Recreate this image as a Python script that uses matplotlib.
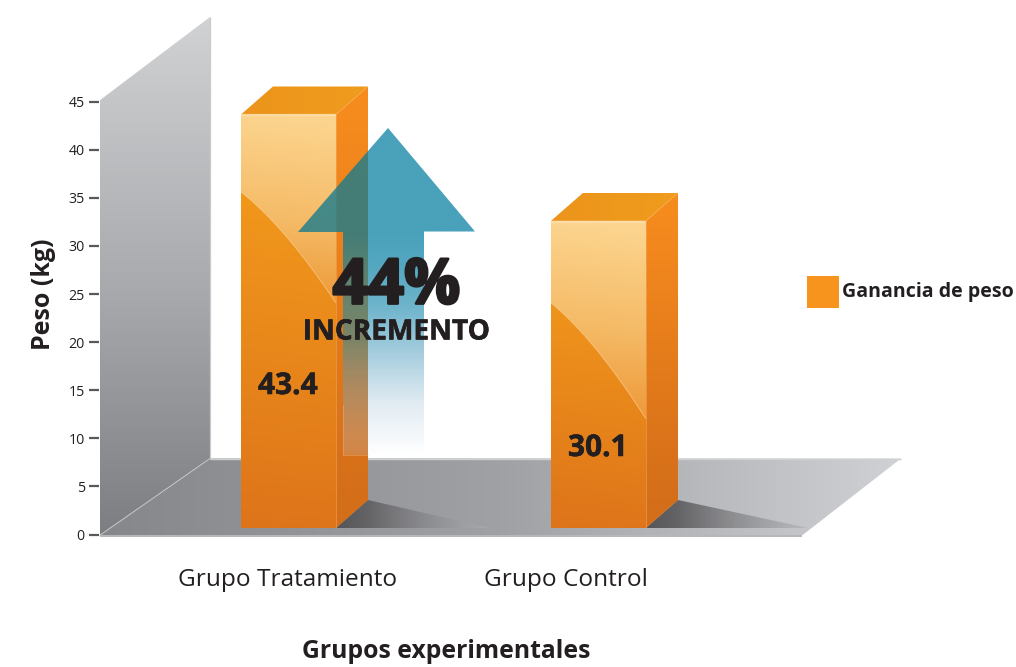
import numpy as np
import matplotlib
matplotlib.use("Agg")
import matplotlib.pyplot as plt
import matplotlib.patheffects as pe
from matplotlib.patches import Polygon, Rectangle

# ---- data ----
categories = ["Grupo Tratamiento", "Grupo Control"]
bar_tops = [43.66, 32.6]          # drawn height on the axis scale
bar_labels = ["43.4", "30.1"]     # printed values
y_ticks = [0, 5, 10, 15, 20, 25, 30, 35, 40, 45]
series_name = "Ganancia de peso"
y_title = "Peso (kg)"
x_title = "Grupos experimentales"
headline = "44%"
subhead = "INCREMENTO"

# ---- layout (pixels of the reference) ----
W, H = 1016, 667
Y0, PX_PER_UNIT = 534.5, 9.62
bar_left = [241, 551]
bar_w, dx, dy = 95, 32, 28
gloss_start = [77.5, 82]
gloss_drop = [111, 116]
shadow_len = [122, 130]
label_py = [386, 448]
cat_x = [288, 566]
TXT = "#231f20"
BOLD = "Open Sans"

def v(py):
    return (Y0 - np.asarray(py, dtype=float)) / PX_PER_UNIT

def py_of(val):
    return Y0 - val * PX_PER_UNIT

def heavy(w):
    return [pe.withStroke(linewidth=w, foreground=TXT)]

fig = plt.figure(figsize=(W / 100, H / 100), dpi=100, facecolor="white")
ax = fig.add_axes([0, 0, 1, 1])
ax.set_facecolor("none")
XLIM, YLIM = (0, W), (float(v(H)), float(v(0)))

def poly_d(pts, **kw):
    pts = np.array(pts, dtype=float)
    return Polygon(np.c_[pts[:, 0], v(pts[:, 1])], closed=True, **kw)

def grad(pts, stops, axis="y", z=1, n=256, tilt=0.0):
    """Gradient clipped to a polygon (pixels). stops: (pos, (r,g,b[,a]))."""
    pts = np.array(pts, dtype=float)
    x0, x1, y0, y1 = pts[:, 0].min(), pts[:, 0].max(), pts[:, 1].min(), pts[:, 1].max()
    xs = np.linspace(x0, x1, n)
    ys = np.linspace(y0, y1, n)
    XX, YY = np.meshgrid(xs, ys)
    t = (YY if axis == "y" else XX) + tilt * (XX - x0)
    pos = [s[0] for s in stops]
    cols = [tuple(s[1]) + ((1.0,) if len(s[1]) == 3 else ()) for s in stops]
    img = np.zeros((n, n, 4))
    for i in range(4):
        img[..., i] = np.interp(t, pos, [c[i] for c in cols])
    img[..., :3] /= 255.0
    im = ax.imshow(img, extent=(x0, x1, float(v(y1)), float(v(y0))), origin="upper",
                   aspect="auto", zorder=z, interpolation="bilinear")
    clip = poly_d(pts, transform=ax.transData, facecolor="none", edgecolor="none")
    im.set_clip_path(clip)
    return im

def line(xs, ys, color, lw=0.8, alpha=1.0, z=3):
    ax.plot(xs, v(ys), color=color, lw=lw, alpha=alpha, zorder=z, solid_capstyle="butt")

# ---- wall and floor ----
wall = [(99.5, 100.5), (210, 17), (210, 458.5), (99.5, 535.5)]
grad(wall, [(17, (209, 210, 212)), (300, (167, 168, 171)), (535, (125, 126, 130))], z=1)
line([210, 210], [17, 458.5], "#c9cacc", 0.9, z=1.5)
floor = [(99.5, 535.5), (210, 458.5), (901, 458.5), (802, 535.5)]
grad(floor, [(100, (134, 135, 139)), (500, (160, 161, 165)), (900, (208, 209, 212))],
     axis="x", z=1)
line([99.5, 210], [535.5, 458.5], "#c4c5c7", 0.7, z=1.5)
line([210, 901], [458.5, 458.5], "#cfd0d2", 1.0, z=1.5)
line([99.5, 802], [535.5, 535.5], "#b4b5b8", 1.4, z=1.5)

# ---- bars ----
for left, top, g_s, g_d, s_l in zip(bar_left, bar_tops, gloss_start, gloss_drop, shadow_len):
    right = left + bar_w
    ptop = py_of(top)
    base = 528
    # shadow
    sh_end = right + dx + s_l
    grad([(right, base), (right + dx, base - dy), (sh_end, base)],
         [(right, (85, 85, 88, 1.0)), (right + dx, (100, 100, 103, 1.0)),
          (sh_end, (175, 176, 179, 0.6))], axis="x", z=2)
    # front
    front = [(left, ptop), (right, ptop), (right, base), (left, base)]
    grad(front, [(ptop, (245, 160, 28)), (base, (222, 116, 26))], z=3, tilt=-0.12)
    # side
    side = [(right, ptop), (right + dx, ptop - dy), (right + dx, base - dy), (right, base)]
    grad(side, [(ptop - dy, (248, 141, 30)), (base - dy, (212, 110, 25))], z=3)
    # top
    top_face = [(left, ptop), (left + dx, ptop - dy), (right + dx, ptop - dy), (right, ptop)]
    grad(top_face, [(left, (236, 148, 27)), (right + dx, (240, 156, 30))], axis="x", z=3)
    # glossy area above a curve
    t = np.linspace(0, 1, 60)
    y_start = ptop + g_s
    cx, cy = 0.46, 0.31
    bx = 2 * (1 - t) * t * cx + t ** 2
    by = 2 * (1 - t) * t * cy + t ** 2
    cxs = left + bx * bar_w
    cys = y_start + by * g_d
    gloss = [(left, ptop), (right, ptop)] + list(zip(cxs[::-1], cys[::-1]))
    grad(gloss, [(ptop, (252, 212, 142, 1.0)), (ptop + 100, (245, 187, 103, 1.0)),
                 (y_start + g_d, (237, 150, 52, 1.0))], z=3.1, tilt=-0.1)
    line(cxs, cys, "#fbd29a", 0.6, 0.7, z=3.2)
    line([left, right], [ptop + 1, ptop + 1], "#fde0ae", 1.6, 0.8, z=3.2)
    line([right, right], [ptop, base], "#f8b870", 0.6, 0.5, z=3.2)
    line([right, right + dx], [ptop, ptop - dy], "#f7b25c", 0.5, 0.6, z=3.2)

# ---- arrow ----
tip_x, head_y, tip_y = 388, 231.5, 128
shaft_l, shaft_r, shaft_b = 343, 424, 455
wing_l, wing_r = 298, 475
edge = bar_left[0] + bar_w + dx   # back edge of the first bar
clear = [(edge, tip_y + (tip_x - edge) * (head_y - tip_y) / (tip_x - wing_l)), (tip_x, tip_y),
         (wing_r, head_y), (shaft_r, head_y), (shaft_r, shaft_b), (edge, shaft_b)]
over = [(edge, clear[0][1]), (edge, shaft_b), (shaft_l, shaft_b), (shaft_l, head_y), (wing_l, head_y)]
grad(clear, [(tip_y, (73, 161, 186)), (head_y, (73, 161, 186)), (270, (86, 168, 193)),
             (307, (111, 181, 204)), (353, (165, 205, 222)), (403, (225, 235, 242)),
             (shaft_b, (255, 255, 255))], z=4)
grad(over, [(tip_y, (25, 124, 142, 0.80)), (head_y, (25, 124, 142, 0.80)),
            (340, (40, 143, 166, 0.55)), (380, (87, 167, 207, 0.40)),
            (440, (181, 200, 222, 0.27)), (shaft_b, (190, 205, 225, 0.22))], z=4)
line([shaft_l, shaft_l, edge], [405, shaft_b, shaft_b], "#f3b27a", 0.6, 0.5, z=4.1)

# ---- axes: real ticks and labels ----
ax.set_xlim(XLIM)
ax.set_ylim(YLIM)
for s in ("top", "right"):
    ax.spines[s].set_visible(False)
ax.spines["left"].set_position(("data", 99))
ax.spines["left"].set_color("none")
ax.spines["bottom"].set_position(("data", 0))
ax.spines["bottom"].set_color("none")
ax.set_yticks(y_ticks)
ax.set_yticklabels([str(t) for t in y_ticks], family="Open Sans", fontsize=10.2, color=TXT)
ax.tick_params(axis="y", length=7.2, width=1.6, color="#58595b", pad=3)
ax.set_xticks(cat_x)
ax.set_xticklabels(categories, family="Open Sans", fontsize=17.6, color=TXT)
ax.tick_params(axis="x", length=0, pad=24)
ax.set_ylabel(y_title, family=BOLD, fontweight="bold", fontsize=18, color=TXT)
ax.yaxis.set_label_coords(43 / W, 1 - 294 / H)
ax.set_xlabel(x_title, family=BOLD, fontweight="bold", fontsize=17.8, color=TXT)
ax.xaxis.set_label_coords(446 / W, 1 - 652 / H)
ax.xaxis.label.set_va("center")
ax.yaxis.label.set_va("center")

# ---- value labels, callout, legend ----
for left, lab, py in zip(bar_left, bar_labels, label_py):
    ax.text(left + 47, v(py), lab, ha="center", va="center", family=BOLD, fontweight="bold",
            fontsize=21.5, color=TXT, zorder=6, path_effects=heavy(0.4))
ax.text(396.5, v(287), headline, ha="center", va="center", family=BOLD, fontweight="bold",
        fontsize=45, color=TXT, zorder=6, path_effects=heavy(2.0))
ax.text(396, v(332), subhead, ha="center", va="center", family=BOLD, fontweight="bold",
        fontsize=20.2, color=TXT, zorder=6, path_effects=heavy(0.4))
ax.add_patch(Rectangle((807, float(v(308))), 32, float(v(276) - v(308)), facecolor="#f7941d",
                       edgecolor="none", zorder=5))
ax.text(842, v(292), series_name, ha="left", va="center", family=BOLD, fontweight="bold",
        fontsize=14.1, color=TXT, zorder=6)

ax.set_xlim(XLIM)
ax.set_ylim(YLIM)
fig.savefig("out.png", dpi=100, facecolor="white")
